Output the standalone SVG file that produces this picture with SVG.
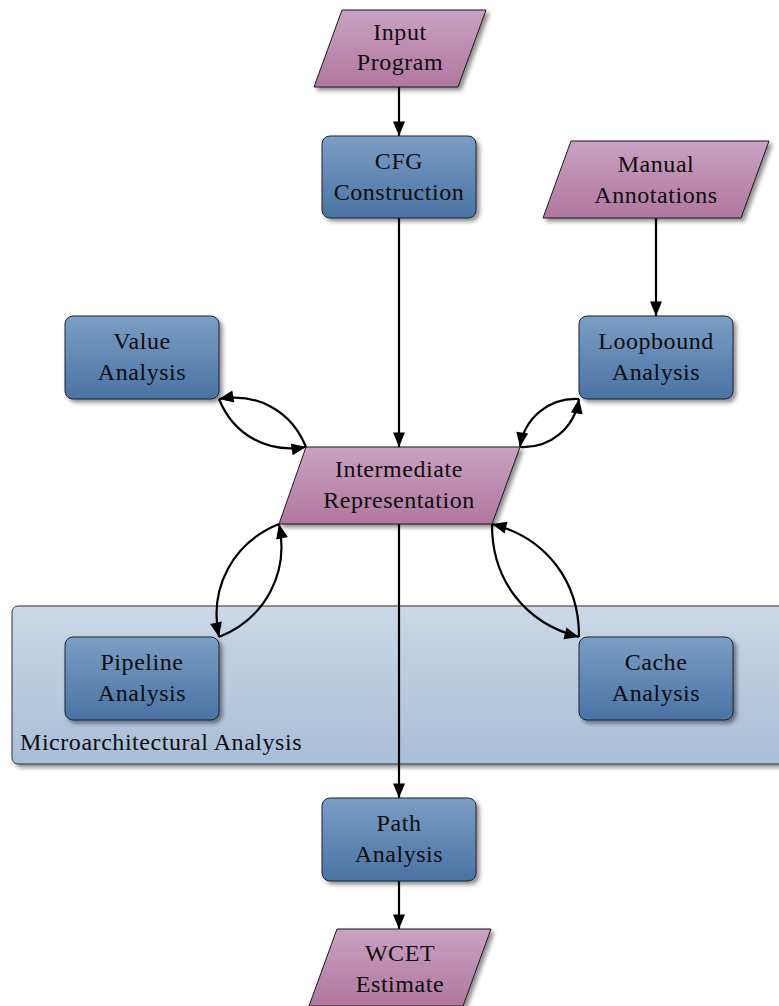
<svg xmlns="http://www.w3.org/2000/svg" width="779" height="1006" viewBox="0 0 779 1006">
  <defs>
    <linearGradient id="gBlue" x1="0" y1="0" x2="0" y2="1">
      <stop offset="0" stop-color="#7c9ec4"/>
      <stop offset="1" stop-color="#4a72a3"/>
    </linearGradient>
    <linearGradient id="gPink" x1="0" y1="0" x2="0" y2="1">
      <stop offset="0" stop-color="#caa2c2"/>
      <stop offset="1" stop-color="#b0779f"/>
    </linearGradient>
    <linearGradient id="gGroup" x1="0" y1="0" x2="0" y2="1">
      <stop offset="0" stop-color="#cbd8e6"/>
      <stop offset="1" stop-color="#a8bed8"/>
    </linearGradient>
    <filter id="shadow" x="-10%" y="-10%" width="130%" height="140%">
      <feDropShadow dx="3" dy="3" stdDeviation="2" flood-color="#000" flood-opacity="0.45"/>
    </filter>
    <marker id="arrow" markerUnits="userSpaceOnUse" viewBox="-16 -8 17 16" refX="0" refY="0" markerWidth="17" markerHeight="16" orient="auto">
      <path d="M0,0 L-14.5,-6 L-14.5,6 Z" fill="#000"/>
    </marker>
  </defs>
  <style>
    .box { fill: url(#gBlue); stroke: #1c2633; stroke-width: 1; filter: url(#shadow); }
    .para { fill: url(#gPink); stroke: #1c1c1c; stroke-width: 1; filter: url(#shadow); }
    .grp { fill: url(#gGroup); stroke: #333; stroke-width: 1; filter: url(#shadow); }
    text { font-family: "Liberation Serif", "Times New Roman", serif; font-size: 24px; letter-spacing: 0.55px; fill: #0d0d0d; }
    .c { text-anchor: middle; }
    .edge { fill: none; stroke: #000; stroke-width: 2.2; marker-end: url(#arrow); }
  </style>

  <!-- microarchitectural analysis container -->
  <g id="microarch">
    <rect class="grp" x="12" y="606" width="790" height="158" rx="6"/>
    <text x="20" y="750">Microarchitectural Analysis</text>
  </g>

  <!-- connectors -->
  <g id="connectors">
    <path class="edge" d="M399,87 L399,136"/>
    <path class="edge" d="M399,218 L399,447"/>
    <path class="edge" d="M656,218 L656,316"/>
    <path class="edge" d="M399,524 L399,798"/>
    <path class="edge" d="M399,881 L399,929"/>
    <!-- value analysis <-> IR -->
    <path class="edge" d="M306,447 C291.4,410.8 257.4,392.3 219,399"/>
    <path class="edge" d="M219,399 C233.6,435.2 267.6,453.6 306,447"/>
    <!-- loopbound analysis <-> IR -->
    <path class="edge" d="M579,399 C549.2,397.5 524.6,417.6 520,447"/>
    <path class="edge" d="M520,447 C549.8,448.5 574.4,428.4 579,399"/>
    <!-- pipeline analysis <-> IR -->
    <path class="edge" d="M279,524 C232.6,542.7 208.6,588.1 219,637"/>
    <path class="edge" d="M219,637 C265.4,618.3 289.4,572.9 279,524"/>
    <!-- cache analysis <-> IR -->
    <path class="edge" d="M492,524 C491.6,579.8 524.9,623.1 579,637"/>
    <path class="edge" d="M579,637 C579.4,581.2 546.1,537.9 492,524"/>
  </g>

  <g id="input-program">
    <polygon class="para" points="342,10 486,10 458,87 314,87"/>
    <text class="c" x="400" y="40">Input</text>
    <text class="c" x="400" y="70">Program</text>
  </g>

  <g id="cfg-construction">
    <rect class="box" x="322" y="136" width="154" height="82" rx="8"/>
    <text class="c" x="399" y="169">CFG</text>
    <text class="c" x="399" y="200">Construction</text>
  </g>

  <g id="manual-annotations">
    <polygon class="para" points="571,141 769,141 741,218 543,218"/>
    <text class="c" x="656" y="172">Manual</text>
    <text class="c" x="656" y="203">Annotations</text>
  </g>

  <g id="value-analysis">
    <rect class="box" x="65" y="316" width="154" height="83" rx="8"/>
    <text class="c" x="142" y="349">Value</text>
    <text class="c" x="142" y="380">Analysis</text>
  </g>

  <g id="loopbound-analysis">
    <rect class="box" x="579" y="316" width="154" height="83" rx="8"/>
    <text class="c" x="656" y="349">Loopbound</text>
    <text class="c" x="656" y="380">Analysis</text>
  </g>

  <g id="intermediate-representation">
    <polygon class="para" points="306,447 520,447 492,524 279,524"/>
    <text class="c" x="399" y="477">Intermediate</text>
    <text class="c" x="399" y="508">Representation</text>
  </g>

  <g id="pipeline-analysis">
    <rect class="box" x="65" y="637" width="154" height="83" rx="8"/>
    <text class="c" x="142" y="670">Pipeline</text>
    <text class="c" x="142" y="701">Analysis</text>
  </g>

  <g id="cache-analysis">
    <rect class="box" x="579" y="637" width="154" height="83" rx="8"/>
    <text class="c" x="656" y="670">Cache</text>
    <text class="c" x="656" y="701">Analysis</text>
  </g>

  <g id="path-analysis">
    <rect class="box" x="322" y="798" width="154" height="83" rx="8"/>
    <text class="c" x="399" y="831">Path</text>
    <text class="c" x="399" y="862">Analysis</text>
  </g>

  <g id="wcet-estimate">
    <polygon class="para" points="337,929 491,929 463,1006 309,1006"/>
    <text class="c" x="400" y="961">WCET</text>
    <text class="c" x="400" y="992">Estimate</text>
  </g>
</svg>
